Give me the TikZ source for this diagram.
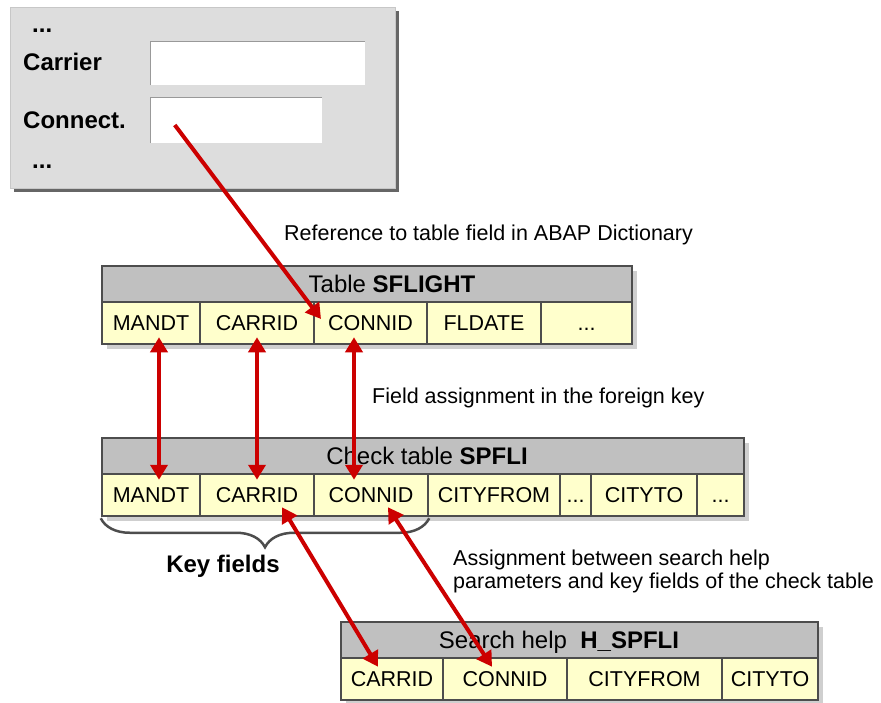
\documentclass[tikz,border=0pt]{standalone}
\usepackage{fontspec}
\setmainfont{Liberation Sans}
\usetikzlibrary{arrows.meta, calc, shadows, decorations.pathreplacing}

\definecolor{framegray}{HTML}{4D4D4D}
\definecolor{headgray}{HTML}{C0C0C0}
\definecolor{cellyellow}{HTML}{FFFFCC}
\definecolor{shadegray}{HTML}{CFCFCF}
\definecolor{screengray}{HTML}{DDDDDD}
\definecolor{linkred}{HTML}{CC0000}

\newcommand\cellfont{\fontsize{21.5}{24}\selectfont}
\newcommand\headfont{\fontsize{24}{28}\selectfont}
\newcommand\notefont{\fontsize{21.5}{23}\selectfont}
\newcommand\screenfont{\fontsize{24}{28}\selectfont\bfseries}

\tikzset{
  tabshade/.style={drop shadow={shadow xshift=5pt, shadow yshift=-5pt, fill=shadegray, opacity=1}},
  tabhead/.style={draw=framegray, line width=2.5pt, fill=headgray, minimum height=36, inner sep=0pt, tabshade},
  cell/.style={draw=framegray, line width=2.5pt, fill=cellyellow, minimum height=42, inner sep=0pt,
    font=\cellfont, text height=15.4pt, text depth=0pt, tabshade},
  headtext/.style={font=\headfont, inner sep=0pt, text height=17pt, text depth=0pt},
  notetext/.style={font=\notefont, inner sep=0pt, anchor=base west, align=left},
  screenbox/.style={fill=screengray, draw=black!22, line width=1pt,
    drop shadow={shadow xshift=3.5pt, shadow yshift=-3.5pt, fill=black!60, opacity=1}},
  entry/.style={fill=white, inner sep=0pt},
  screentext/.style={font=\screenfont, inner sep=0pt, anchor=base west},
  link/.style={draw=linkred, line width=4pt}
}

\begin{document}
\begin{tikzpicture}[x=1pt, y=-1pt, >={Triangle[width=17pt,length=15pt]}]
    \useasboundingbox (0,0) rectangle (881,702);

    % input screen
    \node[screenbox, minimum width=385, minimum height=181] (screen) at (202.5,97.5) {};
    \node[entry, minimum width=214, minimum height=43] (carrier-in) at (258,63.5) {};
    \node[entry, minimum width=171, minimum height=45] (conn-in) at (236.5,120.5) {};
    \draw[black!40, line width=1pt] (carrier-in.south west) |- (carrier-in.north east);
    \draw[black!40, line width=1pt] (conn-in.south west) |- (conn-in.north east);
    \node[screentext] (dots-top) at (32,32) {...};
    \node[screentext] (carrier-lbl) at (23,70) {Carrier};
    \node[screentext] (connect-lbl) at (23,128) {Connect.};
    \node[screentext] (dots-bot) at (32,168) {...};

    \node[notetext] (ref-note) at (284,240) {Reference to table field in ABAP Dictionary};

    % table SFLIGHT
    \node[tabhead, minimum width=530] (sf-head) at (367,284) {};
    \node[headtext] (sf-title) at (392,284) {Table \textbf{SFLIGHT}};
    \node[cell, minimum width=98] (sf-mandt) at (151,323) {MANDT};
    \node[cell, minimum width=114] (sf-carrid) at (257,323) {CARRID};
    \node[cell, minimum width=113] (sf-connid) at (370.5,323) {CONNID};
    \node[cell, minimum width=114] (sf-fldate) at (484,323) {FLDATE};
    \node[cell, minimum width=91] (sf-more) at (586.5,323) {...};

    \node[notetext] (fk-note) at (372,403) {Field assignment in the foreign key};

    % check table SPFLI
    \node[tabhead, minimum width=642] (sp-head) at (423,456) {};
    \node[headtext] (sp-title) at (427,456) {Check table \textbf{SPFLI}};
    \node[cell, minimum width=98] (sp-mandt) at (151,495) {MANDT};
    \node[cell, minimum width=114] (sp-carrid) at (257,495) {CARRID};
    \node[cell, minimum width=114] (sp-connid) at (371,495) {CONNID};
    \node[cell, minimum width=132] (sp-cityfrom) at (494,495) {CITYFROM};
    \node[cell, minimum width=31] (sp-more) at (575.5,495) {...};
    \node[cell, minimum width=106] (sp-cityto) at (644,495) {CITYTO};
    \node[cell, minimum width=47] (sp-rest) at (720.5,495) {...};

    \draw[framegray, line width=2.5pt, decorate, decoration={brace, mirror, amplitude=29pt}]
        ([yshift=-1pt]sp-mandt.south west) -- ([yshift=-1pt]sp-connid.south east);
    \node[font=\screenfont, inner sep=0pt, anchor=base] (key-lbl) at (223,572) {Key fields};

    \node[notetext] (sh-note) at (453,588) {Assignment between search help\\parameters and key fields of the check table};

    % search help H_SPFLI
    \node[tabhead, minimum width=477] (sh-head) at (579.5,640) {};
    \node[headtext] (sh-title) at (559,640) {Search help\ \ \textbf{H\_SPFLI}};
    \node[cell, minimum width=102] (sh-carrid) at (392,679) {CARRID};
    \node[cell, minimum width=124] (sh-connid) at (505,679) {CONNID};
    \node[cell, minimum width=155] (sh-cityfrom) at (644.5,679) {CITYFROM};
    \node[cell, minimum width=96] (sh-cityto) at (770,679) {CITYTO};

    % connectors
    \draw[link, ->] ($(conn-in.west)+(24,4.5)$) -- ($(sf-connid.center)+(-49.5,-4)$);
    \draw[link, <->] ([xshift=8pt,yshift=8pt]sf-mandt.south) -- ([xshift=8pt,yshift=-7pt]sp-mandt.north);
    \draw[link, <->] ([yshift=8pt]sf-carrid.south) -- ([yshift=-7pt]sp-carrid.north);
    \draw[link, <->] ([xshift=-16.5pt,yshift=8pt]sf-connid.south) -- ([xshift=-17pt,yshift=-7pt]sp-connid.north);
    \draw[link, <->] ([xshift=25pt,yshift=10pt]sp-carrid.south) -- ([xshift=-14pt,yshift=-10pt]sh-carrid.north);
    \draw[link, <->] ([xshift=17pt,yshift=10pt]sp-connid.south) -- ([xshift=-13pt,yshift=-10pt]sh-connid.north);
\end{tikzpicture}
\end{document}
